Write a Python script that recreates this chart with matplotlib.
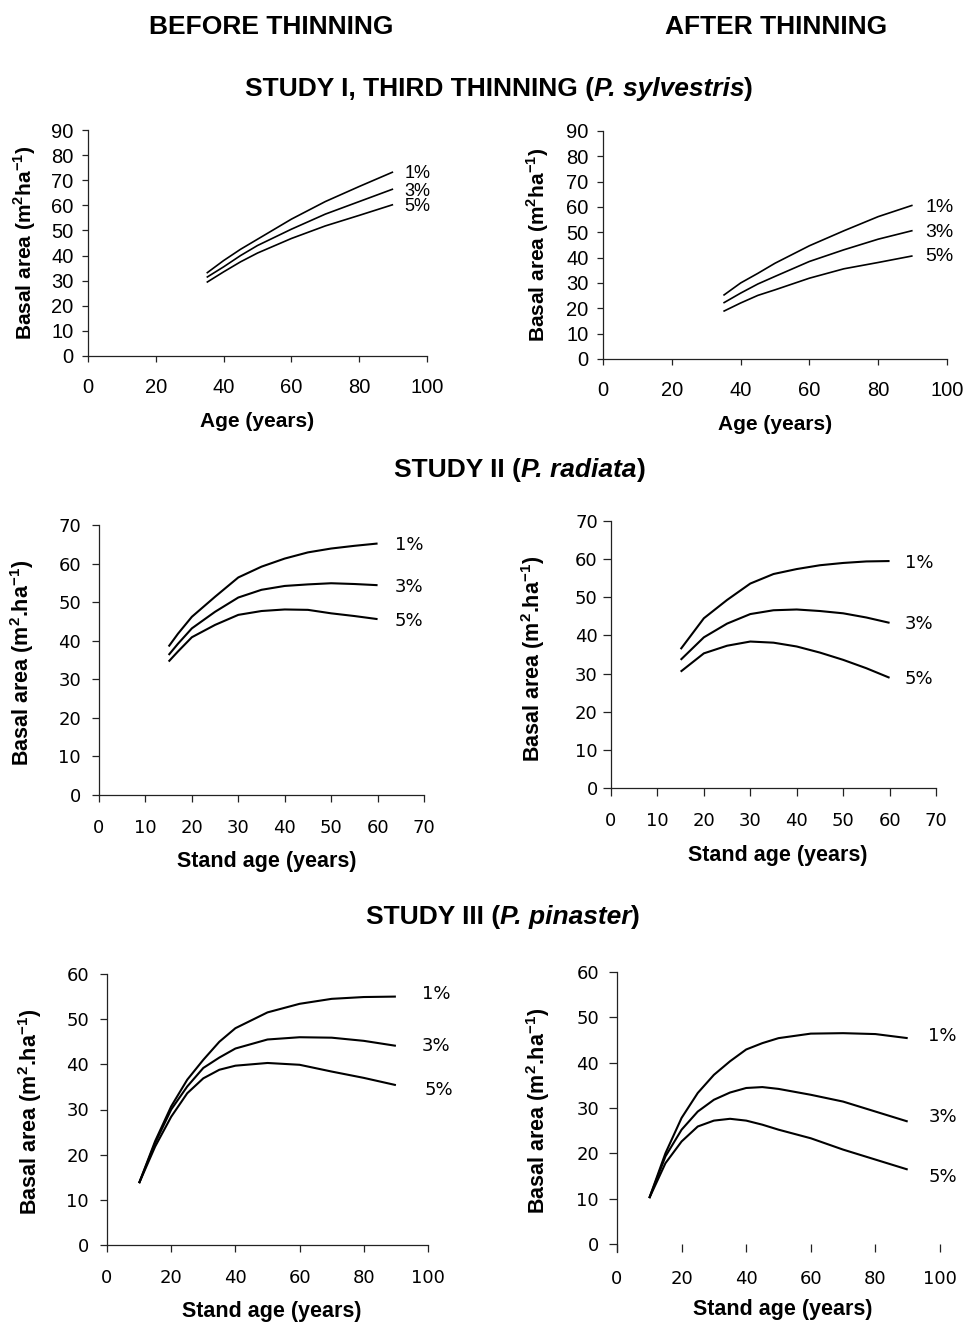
import matplotlib
matplotlib.use("Agg")
import matplotlib.pyplot as plt

plt.rcParams['font.family'] = ['Liberation Sans', 'DejaVu Sans']
plt.rcParams['mathtext.fontset'] = 'custom'
plt.rcParams['mathtext.rm'] = 'Liberation Sans'
plt.rcParams['mathtext.bf'] = 'Liberation Sans:bold'

# ---------------- data ----------------
rates = ['1%', '3%', '5%']

# Study I (P. sylvestris), before thinning
s1_before_age = [35, 40, 45, 50, 60, 70, 80, 90]
s1_before_1 = [33.0, 38.0, 42.5, 46.5, 54.5, 61.5, 67.5, 73.3]
s1_before_3 = [31.3, 35.5, 40.0, 44.0, 50.5, 56.5, 61.5, 66.5]
s1_before_5 = [29.3, 33.5, 37.5, 41.0, 46.8, 51.8, 56.0, 60.3]

# Study I, after thinning
s1_after_age = [35, 40, 45, 50, 60, 70, 80, 90]
s1_after_1 = [25.1, 30.0, 33.8, 37.8, 44.7, 50.6, 56.2, 60.7]
s1_after_3 = [22.1, 26.0, 29.6, 32.6, 38.5, 43.1, 47.3, 50.7]
s1_after_5 = [18.8, 22.1, 25.1, 27.3, 31.9, 35.6, 38.1, 40.7]

# Study II (P. radiata), before thinning
s2_before_age = [15, 17, 20, 25, 30, 35, 40, 45, 50, 55, 60]
s2_before_1 = [38.5, 41.8, 46.2, 51.4, 56.4, 59.2, 61.3, 62.9, 63.9, 64.6, 65.2]
s2_before_3 = [36.3, 39.2, 43.2, 47.5, 51.2, 53.2, 54.2, 54.6, 54.9, 54.7, 54.4]
s2_before_5 = [34.6, 37.2, 40.9, 44.1, 46.7, 47.7, 48.1, 48.0, 47.1, 46.4, 45.6]

# Study II, after thinning
s2_after_age = [15, 20, 25, 30, 35, 40, 45, 50, 55, 60]
s2_after_1 = [36.4, 44.5, 49.3, 53.6, 56.1, 57.4, 58.4, 59.0, 59.4, 59.5]
s2_after_3 = [33.6, 39.5, 43.1, 45.6, 46.6, 46.8, 46.4, 45.8, 44.7, 43.3]
s2_after_5 = [30.5, 35.3, 37.3, 38.4, 38.1, 37.1, 35.5, 33.6, 31.4, 28.9]

# Study III (P. pinaster), before thinning
s3_before_age = [10, 15, 20, 25, 30, 35, 40, 50, 60, 70, 80, 90]
s3_before_1 = [13.7, 23.0, 30.7, 36.6, 41.0, 45.0, 48.0, 51.5, 53.4, 54.5, 54.9, 55.0]
s3_before_3 = [13.7, 22.6, 30.0, 35.1, 39.2, 41.5, 43.5, 45.5, 46.0, 45.9, 45.2, 44.1]
s3_before_5 = [13.7, 21.8, 28.4, 33.6, 36.9, 38.8, 39.7, 40.3, 39.9, 38.4, 37.0, 35.4]

# Study III, after thinning
s3_after_age = [10, 15, 20, 25, 30, 35, 40, 45, 50, 60, 70, 80, 90]
s3_after_1 = [10.1, 20.0, 27.8, 33.3, 37.3, 40.3, 42.9, 44.3, 45.4, 46.4, 46.5, 46.3, 45.4]
s3_after_3 = [10.1, 19.3, 25.2, 29.2, 31.8, 33.4, 34.4, 34.6, 34.2, 32.9, 31.4, 29.2, 27.0]
s3_after_5 = [10.1, 17.8, 22.6, 25.9, 27.2, 27.6, 27.2, 26.3, 25.2, 23.3, 20.8, 18.6, 16.4]

col_titles = ['BEFORE THINNING', 'AFTER THINNING']
# each row title: (plain prefix, italic species, plain suffix)
row_titles = [('STUDY I, THIRD THINNING (', 'P. sylvestris', ')'),
              ('STUDY II (', 'P. radiata', ')'),
              ('STUDY III (', 'P. pinaster', ')')]

ylab_top = r'Basal area (m$^\mathbf{2}$ha$^\mathbf{-1}$)'
ylab_low = r'Basal area (m$^\mathbf{2}$.ha$^\mathbf{-1}$)'
xlab_top = 'Age (years)'
xlab_low = 'Stand age (years)'

W, H = 968, 1323
fig = plt.figure(figsize=(W / 100, H / 100), dpi=100)


def frac(l, r, t, b):
    return [l / W, (H - b) / H, (r - l) / W, (b - t) / H]


panels = [
    dict(rect=frac(88, 427, 130, 356), age=s1_before_age,
         ys=[s1_before_1, s1_before_3, s1_before_5],
         xlim=(0, 100), xt=range(0, 101, 20), ylim=(0, 90), yt=range(0, 91, 10),
         lab_x=[93.4] * 3, lab_y=[72.8, 65.7, 59.5], lfs=13,
         xl=xlab_top, yl=ylab_top, xlc=(0.5, -0.292), ylc=(-0.186, 0.502),
         font='Liberation Sans', fs=14.5, lw=1.2, xpad=11, ypad=6, top=True, tl=4.5),
    dict(rect=frac(603, 947, 131, 359), age=s1_after_age,
         ys=[s1_after_1, s1_after_3, s1_after_5],
         xlim=(0, 100), xt=range(0, 101, 20), ylim=(0, 90), yt=range(0, 91, 10),
         lab_x=[93.7] * 3, lab_y=[59.9, 50.0, 40.5], lfs=14,
         xl=xlab_top, yl=ylab_top, xlc=(0.5, -0.289), ylc=(-0.189, 0.5),
         font='Liberation Sans', fs=14.5, lw=1.2, xpad=11, ypad=6, top=True, tl=4.5),
    dict(rect=frac(99, 424, 525, 795), age=s2_before_age,
         ys=[s2_before_1, s2_before_3, s2_before_5],
         xlim=(0, 70), xt=range(0, 71, 10), ylim=(0, 70), yt=range(0, 71, 10),
         lab_x=[63.7] * 3, lab_y=[64.8, 53.8, 45.0], lfs=13,
         xl=xlab_low, yl=ylab_low, xlc=(0.517, -0.248), ylc=(-0.237, 0.489),
         font='DejaVu Sans', fs=13, lw=1.5, xpad=12, ypad=8, top=False, tl=5),
    dict(rect=frac(611, 936, 521, 788), age=s2_after_age,
         ys=[s2_after_1, s2_after_3, s2_after_5],
         xlim=(0, 70), xt=range(0, 71, 10), ylim=(0, 70), yt=range(0, 71, 10),
         lab_x=[63.3] * 3, lab_y=[59.0, 43.0, 28.6], lfs=13,
         xl=xlab_low, yl=ylab_low, xlc=(0.514, -0.251), ylc=(-0.24, 0.483),
         font='DejaVu Sans', fs=13, lw=1.5, xpad=12, ypad=4, top=False, tl=5.5),
    dict(rect=frac(107, 428, 974, 1245), age=s3_before_age,
         ys=[s3_before_1, s3_before_3, s3_before_5],
         xlim=(0, 100), xt=range(0, 101, 20), ylim=(0, 60), yt=range(0, 61, 10),
         lab_x=[98.0, 98.0, 99.0], lab_y=[55.6, 44.0, 34.4], lfs=13,
         xl=xlab_low, yl=ylab_low, xlc=(0.514, -0.247), ylc=(-0.24, 0.49),
         font='DejaVu Sans', fs=13, lw=1.5, xpad=12, ypad=8, top=False, tl=5),
    dict(rect=frac(617, 940, 972, 1252), age=s3_after_age,
         ys=[s3_after_1, s3_after_3, s3_after_5],
         xlim=(0, 100), xt=range(0, 101, 20), ylim=(-1.8, 60), yt=range(0, 61, 10),
         lab_x=[96.4] * 3, lab_y=[45.8, 28.1, 14.7], lfs=13,
         xl=xlab_low, yl=ylab_low, xlc=(0.514, -0.207), ylc=(-0.245, 0.504),
         font='DejaVu Sans', fs=13, lw=1.5, xpad=13, ypad=7, top=False, tl=6,
         nobottom=True),
]

for p in panels:
    ax = fig.add_axes(p['rect'])
    for y, r in zip(p['ys'], rates):
        ax.plot(p['age'], y, color='black', lw=p['lw'], solid_capstyle='butt')
    for r, lx, ly in zip(rates, p['lab_x'], p['lab_y']):
        ax.text(lx, ly, r, ha='left', va='center', fontsize=p['lfs'],
                family=p['font'], clip_on=False)
    ax.set_xlim(*p['xlim'])
    ax.set_ylim(*p['ylim'])
    ax.set_xticks(list(p['xt']))
    ax.set_yticks(list(p['yt']))
    for s in ['top', 'right']:
        ax.spines[s].set_visible(False)
    for s in ['left', 'bottom']:
        ax.spines[s].set_linewidth(0.9)
        ax.spines[s].set_color('#222222')
    if p.get('nobottom'):
        ax.spines['bottom'].set_visible(False)
        ax.tick_params(axis='x', direction='in', length=p['tl'], width=0.9,
                       pad=p['xpad'], colors='#222222')
        ax.tick_params(axis='y', direction='out', length=p['tl'], width=0.9,
                       pad=p['ypad'], colors='#222222')
    else:
        ax.tick_params(axis='both', direction='out', length=p['tl'], width=0.9,
                       colors='#222222')
        ax.tick_params(axis='x', pad=p['xpad'])
        ax.tick_params(axis='y', pad=p['ypad'])
    for lbl in ax.get_xticklabels() + ax.get_yticklabels():
        lbl.set_fontsize(p['fs'])
        lbl.set_family(p['font'])
        lbl.set_color('black')
    lfs = 15 if p['top'] else 15.5
    ax.set_xlabel(p['xl'], fontsize=lfs, fontweight='bold', family='Liberation Sans')
    ax.set_ylabel(p['yl'], fontsize=lfs, fontweight='bold', family='Liberation Sans')
    ax.xaxis.set_label_coords(*p['xlc'])
    ax.xaxis.label.set_va('center')
    ax.yaxis.set_label_coords(*p['ylc'])
    ax.yaxis.label.set_va('center')

# column headers
fig.text(271 / W, 1 - 27 / H, col_titles[0], ha='center', va='center',
         fontsize=19, fontweight='bold')
fig.text(776 / W, 1 - 27 / H, col_titles[1], ha='center', va='center',
         fontsize=19, fontweight='bold')

# row headers: plain bold + bold italic species + plain bold, centred as a whole
renderer = fig.canvas.get_renderer()
for (cx, cy), (pre, sp, post) in zip([(499, 89), (520, 470), (503, 917)], row_titles):
    parts = [(pre, 'normal'), (sp, 'italic'), (post, 'normal')]
    texts = []
    for s, style in parts:
        t = fig.text(0, 1 - cy / H, s, ha='left', va='center', fontsize=19,
                     fontweight='bold', fontstyle=style)
        texts.append(t)
    widths = [t.get_window_extent(renderer).width for t in texts]
    total = sum(widths)
    x = cx - total / 2
    for t, w in zip(texts, widths):
        t.set_x(x / W)
        x += w

fig.savefig('out.png', dpi=100)
